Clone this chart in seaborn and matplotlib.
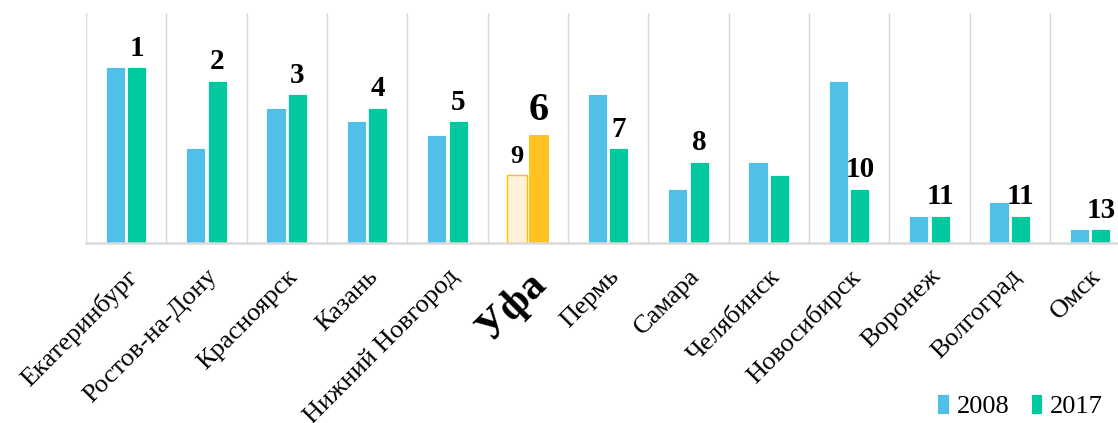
import matplotlib
matplotlib.use('Agg')
from matplotlib import pyplot as plt
import seaborn as sns
import pandas as pd

cities = [
    'Екатеринбург', 'Ростов-на-Дону', 'Красноярск', 'Казань', 'Нижний Новгород',
    'Уфа', 'Пермь', 'Самара', 'Челябинск', 'Новосибирск', 'Воронеж',
    'Волгоград', 'Омск',
]
# bar heights (13 = top place)
values_2008 = [13, 7, 10, 9, 8, 5, 11, 4, 6, 12, 2, 3, 1]
values_2017 = [13, 12, 11, 10, 9, 8, 7, 6, 5, 4, 2, 2, 1]
labels_2008 = ['', '', '', '', '', '9', '', '', '', '', '', '', '']
labels_2017 = ['1', '2', '3', '4', '5', '6', '7', '8', '', '10', '11', '11', '13']
years = ['2008', '2017']
highlight = 'Уфа'

df = pd.DataFrame({
    'city': cities * 2,
    'year': [years[0]] * len(cities) + [years[1]] * len(cities),
    'value': values_2008 + values_2017,
})

BLUE = '#50C0E8'
GREEN = '#00C9A0'
GRID = '#D9D9D9'

sns.set_style('white')
plt.rcParams['font.family'] = ['Liberation Serif', 'DejaVu Serif']
plt.rcParams['text.color'] = 'black'
plt.rcParams['xtick.color'] = 'black'

fig = plt.figure(figsize=(11.18, 4.23), dpi=100)
ax = fig.add_axes([0.0769, 0.4255, 0.934, 0.5437])

sns.barplot(
    data=df, x='city', y='value', hue='year',
    palette={years[0]: BLUE, years[1]: GREEN}, saturation=1,
    width=0.535, gap=0.11, edgecolor='white', linewidth=0.6,
    ax=ax,
)

# highlight Уфа
hi = cities.index(highlight)
ax.containers[0][hi].set_facecolor('#FFF2D9')
ax.containers[0][hi].set_edgecolor('#FFC000')
ax.containers[0][hi].set_linewidth(1.0)
ax.containers[1][hi].set_facecolor('#FFC222')
ax.containers[1][hi].set_edgecolor('#FFC000')

# rank labels
txt17 = ax.bar_label(ax.containers[1], labels=labels_2017, padding=4,
                     fontsize=21, fontweight='bold', color='black')
txt17[hi].set_fontsize(29)
ax.bar_label(ax.containers[0], labels=labels_2008, padding=5,
             fontsize=19, fontweight='bold', color='black')

ax.set_xlim(-0.5, len(cities) - 0.5)
ax.set_ylim(0, 17)
ax.set_xlabel('')
ax.set_ylabel('')
ax.set_yticks([])

for s in ['left', 'right', 'top']:
    ax.spines[s].set_visible(False)
ax.spines['bottom'].set_color(GRID)
ax.spines['bottom'].set_linewidth(1.8)

ax.set_xticks([i - 0.5 for i in range(len(cities) + 1)], minor=True)
ax.grid(True, which='minor', axis='x', color=GRID, linewidth=1.0)
ax.tick_params(axis='x', which='minor', length=11, color=GRID, width=1.0)
ax.tick_params(axis='x', which='major', length=0, pad=16)
ax.set_xticks(range(len(cities)))
ax.set_xticklabels(cities, rotation=45, ha='right', rotation_mode='anchor',
                   fontsize=19)
lab = ax.get_xticklabels()[hi]
lab.set_fontsize(30)
lab.set_fontweight('bold')

handles, labels = ax.get_legend_handles_labels()
ax.get_legend().remove()
fig.legend(handles, labels, loc='lower right', bbox_to_anchor=(1.008, -0.045),
           ncol=2, frameon=False, fontsize=19, handlelength=0.45,
           handleheight=0.8, handletextpad=0.3, columnspacing=0.8)

plt.savefig('out.png', dpi=100)
